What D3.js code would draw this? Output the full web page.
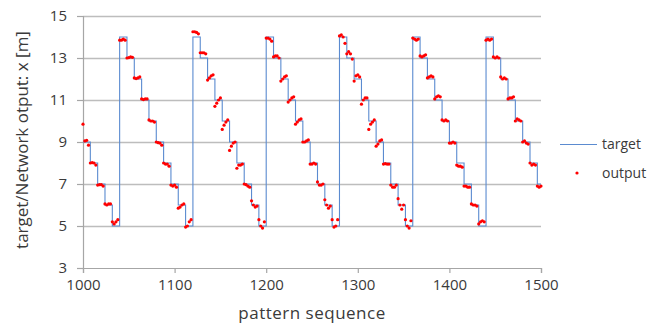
<!DOCTYPE html>
<html>
<head>
<meta charset="utf-8">
<script src="https://cdn.jsdelivr.net/npm/d3@7"></script>
<style>
  body { margin: 0; background: #fff; }
  text { font-family: "Open Sans", "Liberation Sans", sans-serif; fill: #3a3a3a; }
</style>
</head>
<body>
<div class="canvas"></div>
<script>
// x ticks and y ticks
const xTicks = [1000, 1100, 1200, 1300, 1400, 1500];
const yTicks = [3, 5, 7, 9, 11, 13, 15];

// target: step start (pattern) and level
const targetSteps = [
  [1000, 9], [1008, 8], [1016, 7], [1024, 6], [1032, 5],
  [1040, 14], [1048, 13], [1056, 12], [1064, 11], [1072, 10], [1080, 9], [1088, 8], [1096, 7], [1104, 6], [1112, 5],
  [1120, 14], [1128, 13], [1136, 12], [1144, 11], [1152, 10], [1160, 9], [1168, 8], [1176, 7], [1184, 6], [1192, 5],
  [1200, 14], [1208, 13], [1216, 12], [1224, 11], [1232, 10], [1240, 9], [1248, 8], [1256, 7], [1264, 6], [1272, 5],
  [1280, 14], [1288, 13], [1296, 12], [1304, 11], [1312, 10], [1320, 9], [1328, 8], [1336, 7], [1344, 6], [1352, 5],
  [1360, 14], [1368, 13], [1376, 12], [1384, 11], [1392, 10], [1400, 9], [1408, 8], [1416, 7], [1424, 6], [1432, 5],
  [1440, 14], [1448, 13], [1456, 12], [1464, 11], [1472, 10], [1480, 9], [1488, 8], [1496, 7], [1500, 7]
];

// output: patterns 1000, 1002, ... 1500
const outputStart = 1000;
const outputStep = 2;
const outputValues = [
  // 1000-1038
  9.85, 9.05, 9.08, 8.85,  8.0, 8.02, 8.0, 7.9,  6.95, 6.97, 6.97, 6.9,  6.05, 6.0, 6.05, 6.05,  5.2, 5.1, 5.2, 5.3,
  // 1040-1118
  13.85, 13.85, 13.9, 13.85,  13.0, 13.02, 13.05, 13.03,  12.05, 12.02, 12.05, 12.1,  11.05, 11.02, 11.05, 11.05,
  10.05, 10.0, 10.0, 9.95,  9.0, 8.97, 8.95, 8.85,  8.0, 7.95, 7.95, 7.85,  6.95, 6.9, 6.95, 6.85,
  5.85, 5.9, 6.0, 6.05,  4.95, 5.0, 5.2, 5.3,
  // 1120-1198
  14.25, 14.25, 14.22, 14.15,  13.25, 13.25, 13.25, 13.2,  11.95, 12.05, 12.15, 12.2,  10.7, 10.85, 11.0, 11.1,
  9.6, 9.8, 9.95, 10.05,  8.6, 8.8, 8.95, 9.0,  7.75, 7.9, 7.9, 7.95,  7.0, 6.97, 6.9, 6.85,
  6.2, 6.0, 5.9, 5.95,  5.3, 5.0, 4.9, 5.2,
  // 1200-1278
  13.95, 13.95, 13.9, 13.8,  13.05, 13.1, 13.1, 13.0,  11.9, 12.0, 12.1, 12.15,  10.9, 11.0, 11.1, 11.15,
  9.85, 9.95, 10.05, 10.1,  9.0, 9.0, 9.05, 9.1,  7.95, 7.95, 8.0, 7.95,  7.1, 6.95, 6.95, 7.0,
  6.25, 6.0, 5.85, 5.95,  5.3, 4.95, 5.0, 5.3,
  // 1280-1358
  14.05, 14.1, 14.0, 13.7,  13.2, 13.3, 13.2, 12.95,  11.9, 12.15, 12.2, 12.1,  10.8, 11.0, 11.1, 11.1,
  9.6, 9.85, 9.95, 10.05,  8.8, 8.9, 9.05, 9.1,  7.95, 7.97, 7.95, 7.95,  6.95, 6.85, 6.85, 6.95,
  6.3, 6.0, 5.8, 6.0,  5.3, 5.0, 4.9, 5.25,
  // 1360-1438
  13.95, 13.9, 13.85, 13.9,  13.1, 13.05, 13.1, 13.15,  12.05, 12.1, 12.15, 12.1,  11.05, 11.15, 11.2, 11.15,
  10.05, 10.0, 10.05, 10.0,  8.95, 8.95, 9.0, 8.95,  7.9, 7.85, 7.85, 7.8,  6.9, 6.9, 6.85, 6.85,
  6.05, 6.0, 6.0, 5.95,  5.1, 5.2, 5.25, 5.2,
  // 1440-1500
  13.85, 13.9, 13.85, 13.9,  13.05, 13.0, 13.05, 13.0,  12.1, 12.0, 12.05, 12.0,  11.05, 11.1, 11.1, 11.15,
  10.0, 10.1, 10.05, 10.0,  9.0, 9.05, 8.95, 8.9,  8.0, 7.9, 7.95, 7.9,  6.9, 6.85, 6.9
];

const width = 669, height = 327;
const margin = { top: 16, right: 128, bottom: 59, left: 83 };
const graphWidth = width - margin.left - margin.right;
const graphHeight = height - margin.top - margin.bottom;

const svg = d3.select('.canvas')
  .append('svg')
   .attr('width', width)
   .attr('height', height);

const graph = svg.append('g')
  .attr('transform', `translate(${margin.left}, ${margin.top})`);

const x = d3.scaleLinear().domain([1000, 1500]).range([0, graphWidth]);
const y = d3.scaleLinear().domain([3, 15]).range([graphHeight, 0]);

// horizontal grid
graph.append('g')
  .selectAll('line')
  .data(yTicks.slice(1))
  .enter().append('line')
   .attr('x1', 0).attr('x2', graphWidth)
   .attr('y1', d => Math.round(y(d)) + 0.5).attr('y2', d => Math.round(y(d)) + 0.5)
   .attr('stroke', '#bdbdbd').attr('stroke-width', 1.3);

// axes
const xAxis = d3.axisBottom(x).tickValues(xTicks).tickFormat(d3.format('d')).tickSizeOuter(0).tickSize(5).tickPadding(6);
const yAxis = d3.axisLeft(y).tickValues(yTicks).tickSizeOuter(0).tickSize(6).tickPadding(10);

const xAxisGroup = graph.append('g')
  .attr('transform', `translate(0, ${graphHeight})`)
  .call(xAxis);
const yAxisGroup = graph.append('g').call(yAxis);

[xAxisGroup, yAxisGroup].forEach(g => {
  g.selectAll('path, line').attr('stroke', '#a6a6a6').attr('stroke-width', 1.2);
  g.selectAll('text').style('font-size', '15px').attr('fill', '#3a3a3a');
});

// target line
const line = d3.line()
  .x(d => x(d[0]))
  .y(d => y(d[1]))
  .curve(d3.curveStepAfter);

graph.append('path')
  .datum(targetSteps)
  .attr('fill', 'none')
  .attr('stroke', '#5b8bd0')
  .attr('stroke-width', 1.1)
  .attr('d', line);

// output dots
const outputData = outputValues.map((v, i) => [outputStart + i * outputStep, v]);
graph.append('g')
  .selectAll('circle')
  .data(outputData)
  .enter().append('circle')
   .attr('cx', d => x(d[0]))
   .attr('cy', d => y(d[1]))
   .attr('r', 1.6)
   .attr('fill', '#ff0000');

// axis titles
svg.append('text')
  .attr('x', margin.left + graphWidth / 2)
  .attr('y', 319)
  .attr('text-anchor', 'middle')
  .style('font-size', '17px')
  .style('letter-spacing', '0.5px')
  .text('pattern sequence');

svg.append('text')
  .attr('transform', 'translate(28, 140) rotate(-90)')
  .attr('text-anchor', 'middle')
  .style('font-size', '17px')
  .text('target/Network otput:  x [m]');

// legend
const legend = svg.append('g');
legend.append('line')
  .attr('x1', 560).attr('x2', 597)
  .attr('y1', 144.5).attr('y2', 144.5)
  .attr('stroke', '#5b8bd0').attr('stroke-width', 1.1);
legend.append('text')
  .attr('x', 602).attr('y', 149)
  .style('font-size', '14px')
  .text('target');
legend.append('circle')
  .attr('cx', 577).attr('cy', 173)
  .attr('r', 1.6)
  .attr('fill', '#ff0000');
legend.append('text')
  .attr('x', 602).attr('y', 178)
  .style('font-size', '14px')
  .text('output');
</script>
</body>
</html>
